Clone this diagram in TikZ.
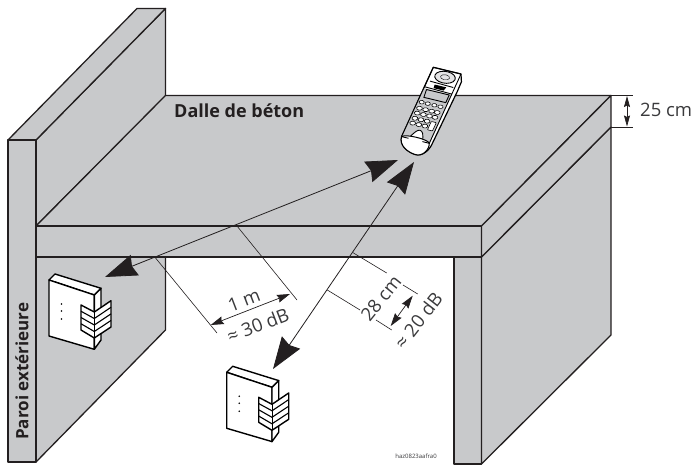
\documentclass[tikz,border=0pt]{standalone}
\usepackage{fontspec}
\setmainfont{Open Sans}
\usetikzlibrary{arrows.meta}
\definecolor{slabgray}{HTML}{C8C9CB}
\definecolor{inkline}{HTML}{231F20}
\definecolor{dimtext}{HTML}{3A3A3C}
\tikzset{
  solid face/.style={fill=slabgray,draw=inkline,line width=1.3pt,line join=round},
  bigarrow/.style={draw=inkline,line width=0.8pt,{Stealth[length=32pt,width=22pt,inset=3pt]}-{Stealth[length=32pt,width=22pt,inset=3pt]}},
  dimline/.style={draw=inkline,line width=0.6pt},
  dimarrow/.style={draw=inkline,line width=0.7pt,{Stealth[length=13pt,width=8pt,inset=1.5pt]}-{Stealth[length=13pt,width=8pt,inset=1.5pt]}},
  dimlabel/.style={text=dimtext,font=\fontsize{18.5}{20}\selectfont,inner sep=0pt},
  boldlabel/.style={text=inkline,font=\fontsize{18}{20}\selectfont\bfseries,inner sep=0pt},
  devline/.style={draw=black,fill=white,line width=1.4pt,line join=round},
  phoneline/.style={draw=black,line width=0.9pt,line join=round},
  key/.style={draw=black,line width=0.6pt,fill=white}
}
\newcommand{\wallunit}[1]{%
\begin{scope}[shift={#1}]
  \draw[devline] (49,280) -- (55,274) -- (101,288.3) -- (94.3,295) -- cycle;
  \draw[devline] (49,280) -- (49,336) -- (94.3,349.3) -- (94.3,295) -- cycle;
  \draw[devline] (94.3,295) -- (101,288.3) -- (101,340) -- (94.3,349.3) -- cycle;
  \draw[devline] (81,305) -- (94.3,312) -- (111,300.7) -- (111,327) -- (94.3,338) -- (81,330) -- cycle;
  \draw[devline,line width=1pt] (94.3,312) -- (94.3,338);
  \foreach \k in {1,2,3} {
    \draw[black,line width=1.1pt] (81,{305+\k*6.25}) -- (94.3,{312+\k*6.5}) -- (111,{300.7+\k*6.6});
  }
  \fill[black] (61.5,304) circle (0.9) (61.5,311) circle (0.9) (61.5,319) circle (0.9);
\end{scope}}
\begin{document}
\begin{tikzpicture}[x=1pt,y=-1pt]
\useasboundingbox (0,0) rectangle (699,473);
\fill[white] (0,0) rectangle (699,473);
% left wall
\draw[solid face] (36,257) -- (165.5,257) -- (165.5,330) -- (36,462) -- cycle;
\draw[solid face] (36,140) -- (165.5,8.5) -- (165.5,96) -- (36,226) -- cycle;
\draw[solid face] (8,140) -- (137,8.5) -- (165.5,8.5) -- (36,140) -- cycle;
\draw[solid face] (8,140) rectangle (36,462);
% column
\draw[solid face] (454,257) rectangle (481.5,464);
\draw[solid face] (481.5,257) -- (611,127) -- (611,335) -- (481.5,464) -- cycle;
% slab
\draw[solid face] (36,226) -- (165.5,95.5) -- (611,95.5) -- (481.5,226) -- cycle;
\draw[solid face] (36,226) rectangle (481.5,257);
\draw[solid face] (481.5,226) -- (611,95.5) -- (611,127) -- (481.5,257) -- cycle;
% devices
\wallunit{(0,0)}
\wallunit{(177.7,92.3)}
% phone
\begin{scope}[x=1pt,y=1pt,cm={27.7,-6.7,-31.7,-69.3,(433.3pt,-67.3pt)}]
  \draw[phoneline,fill=white,line width=1.2pt] (0,0) -- (1,0) -- (1.13,.1) -- (1.14,.24) -- (1.1,1.01)
     .. controls (1.1,1.08) and (.98,1.2) .. (.7,1.19) .. controls (.4,1.18) and (.05,1.12) .. (0,1) -- cycle;
  \fill[slabgray] (0,1) -- (1,1) -- (1,0.3) -- (0,0.3) -- cycle;
  \draw[phoneline] (0,0) -- (1,0) -- (1,1) -- (0,1) -- cycle;
  \draw[phoneline,fill=slabgray!50!white] (.53,.093) ellipse (.36 and .08);
  \draw[phoneline,line width=.4pt] (.53,.093) ellipse (.16 and .035);
  \draw[phoneline] (.1,.19) -- (.95,.2) (.02,.28) -- (1,.29);
  \fill[black] (.3,.22) -- (.72,.22) -- (.68,.27) -- (.32,.27) -- cycle;
  \draw[phoneline,fill=slabgray] (.11,.31) -- (.93,.31) -- (.93,.42) -- (.14,.42) -- cycle;
  \foreach \u in {.14,.36,.6,.82} \draw[key] (\u,.49) ellipse (.09 and .024);
  \foreach \u in {.16,.38,.6,.8} {
    \draw[key] (\u,.575) ellipse (.1 and .027);
    \draw[key] (\u,.645) ellipse (.1 and .027);
  }
  \foreach \u in {.16,.38,.6} {
    \draw[key] (\u,.72) ellipse (.1 and .027);
    \draw[key] (\u,.79) ellipse (.1 and .027);
  }
  \draw[key,rounded corners=.5pt] (.74,.71) rectangle (.92,.83);
  \draw[phoneline,fill=white] (.25,1) .. controls (.35,.9) and (.42,.86) .. (.5,.86) .. controls (.6,.86) and (.68,.9) .. (.75,1);
  \draw[phoneline,fill=white,line width=1pt] (0,1) .. controls (.1,.95) and (.9,.95) .. (1,1) .. controls (1.1,1.08) and (.98,1.2) .. (.7,1.19) .. controls (.4,1.18) and (.05,1.12) .. (0,1) -- cycle;
  \draw[phoneline] (0,1) -- (0.25,1) (0.75,1) -- (1,1);
\end{scope}
% coordinates
\coordinate (unitTipA) at (105,277);
\coordinate (phoneTipA) at (398,160);
\coordinate (unitTipB) at (273,369);
\coordinate (phoneTipB) at (414,162);
\draw[bigarrow] (unitTipA) -- (phoneTipA);
\draw[bigarrow] (unitTipB) -- (phoneTipB);
% 1 m
\coordinate (mA1) at (237,226); \coordinate (mA2) at (297,300);
\coordinate (mB1) at (155,257.3); \coordinate (mB2) at (217,333);
\draw[dimline] (mA1) -- (mA2);
\draw[dimline] (mB1) -- (mB2);
\coordinate (mL) at (210.7,325); \coordinate (mR) at (290,294);
\draw[dimarrow] (mL) -- (mR);
\node[dimlabel,rotate=21] (oneM) at (244,300) {1 m};
\node[dimlabel,rotate=21] (thirty) at (258,325) {≈ 30 dB};
% 28 cm
\coordinate (cA1) at (353,252.7); \coordinate (cA2) at (386.7,273);
\coordinate (cA3) at (403,285); \coordinate (cA4) at (417.7,294);
\coordinate (cB1) at (327.3,290); \coordinate (cB2) at (360,310);
\coordinate (cB3) at (376,320); \coordinate (cB4) at (391.7,330);
\draw[dimline] (cA1) -- (cA2) (cA3) -- (cA4) (cB1) -- (cB2) (cB3) -- (cB4);
\coordinate (cU) at (412.7,295.7); \coordinate (cD) at (390.7,326);
\draw[dimarrow] (cD) -- (cU);
\node[dimlabel,rotate=51] (twentyeight) at (381,298.3) {28 cm};
\node[dimlabel,rotate=52] (twenty) at (418.3,320.7) {≈ 20 dB};
% 25 cm
\coordinate (hT1) at (611,95.5); \coordinate (hT2) at (633,95.5);
\coordinate (hB1) at (611,127); \coordinate (hB2) at (633,127);
\draw[dimline] (hT1) -- (hT2) (hB1) -- (hB2);
\coordinate (hU) at (627,96); \coordinate (hD) at (627,126.5);
\draw[draw=inkline,line width=0.7pt,{Stealth[length=11pt,width=6pt,inset=1.5pt]}-{Stealth[length=11pt,width=6pt,inset=1.5pt]}] (hU) -- (hD);
\node[dimlabel,anchor=west] (twentyfive) at (640,110) {25 cm};
% labels
\node[boldlabel,anchor=west] (dalle) at (174,111) {Dalle de béton};
\node[boldlabel,font=\fontsize{17}{20}\selectfont\bfseries,rotate=90,anchor=west] (paroi) at (22,440) {Paroi extérieure};
\node[text=dimtext,font=\fontsize{6}{7}\selectfont,inner sep=0pt] (ref) at (416,456.5) {haz0823aafra0};
\end{tikzpicture}
\end{document}
